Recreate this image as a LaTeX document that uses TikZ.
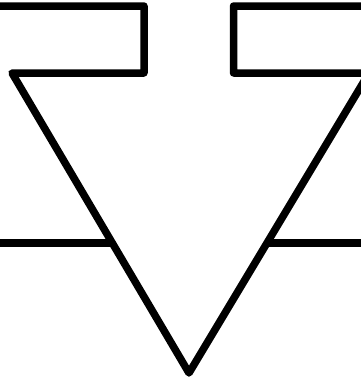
\documentclass[tikz,border=0pt]{standalone}
\begin{document}
\begin{tikzpicture}[x=1pt,y=-1pt,
  stroke/.style={line width=7.5pt,line join=round,line cap=butt,black}]
\useasboundingbox (0,0) rectangle (361,380);
\coordinate (apex) at (189,373);
\coordinate (tl) at (12,73);
\coordinate (tr) at (369,73);
\draw[stroke] (-10,6) -- (144,6) -- (144,73) -- (tl) -- (apex) -- (tr) -- (233.5,73) -- (233.5,6) -- (375,6);
\coordinate (hl) at (112,243);
\coordinate (hr) at (267,243);
\draw[stroke] (-10,243) -- (hl);
\draw[stroke] (hr) -- (375,243);
\end{tikzpicture}
\end{document}
